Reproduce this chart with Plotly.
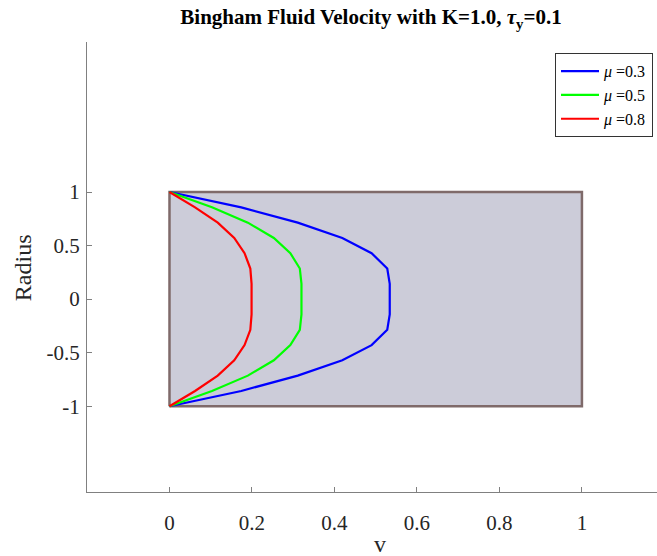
import plotly.graph_objects as go

# Radius sample points (top to bottom)
radius = [1.0, 0.857, 0.714, 0.571, 0.429, 0.286, 0.143, 0.0,
          -0.143, -0.286, -0.429, -0.571, -0.714, -0.857, -1.0]

# Velocity profiles
v_mu03 = [0.0, 0.174, 0.311, 0.419, 0.490, 0.528, 0.534, 0.534,
          0.534, 0.528, 0.490, 0.419, 0.311, 0.174, 0.0]
v_mu05 = [0.0, 0.103, 0.190, 0.253, 0.293, 0.316, 0.320, 0.320,
          0.320, 0.316, 0.293, 0.253, 0.190, 0.103, 0.0]
v_mu08 = [0.0, 0.062, 0.117, 0.157, 0.182, 0.196, 0.199, 0.199,
          0.199, 0.196, 0.182, 0.157, 0.117, 0.062, 0.0]

series_names = ["<i>μ</i> =0.3", "<i>μ</i> =0.5", "<i>μ</i> =0.8"]
series_values = [v_mu03, v_mu05, v_mu08]
series_colors = ["#0000FF", "#00FF00", "#FF0000"]

# Pipe rectangle
rect_x = [0, 1, 1, 0, 0]
rect_y = [-1, -1, 1, 1, -1]

x_ticks = [0, 0.2, 0.4, 0.6, 0.8, 1]
x_ticktext = ["0", "0.2", "0.4", "0.6", "0.8", "1"]
y_ticks = [-1, -0.5, 0, 0.5, 1]
y_ticktext = ["-1", "-0.5", "0", "0.5", "1"]

FONT = "Liberation Serif"

fig = go.Figure()
fig.add_trace(go.Scatter(
    x=rect_x, y=rect_y, mode="lines", fill="toself",
    fillcolor="#CCCCD9", line=dict(color="#7F6A6A", width=2.5),
    showlegend=False, hoverinfo="skip"))

for name, vals, col in zip(series_names, series_values, series_colors):
    fig.add_trace(go.Scatter(
        x=vals, y=radius, mode="lines", name=name,
        line=dict(color=col, width=2.2)))

fig.update_layout(
    width=657, height=556,
    margin=dict(l=87, r=0, t=42, b=64),
    paper_bgcolor="white", plot_bgcolor="white",
    font=dict(family=FONT, color="#262626"),
    title=dict(
        text="<b>Bingham Fluid Velocity with K=1.0, <i>τ</i><sub>y</sub>=0.1</b>",
        x=(371 - 87) / 570, xref="paper", y=1 - 17 / 556, yref="container",
        yanchor="middle", xanchor="center",
        font=dict(family=FONT, size=21, color="black")),
    legend=dict(
        x=0.993, y=0.975, xanchor="right", yanchor="top",
        bgcolor="white", bordercolor="#333333", borderwidth=1,
        font=dict(family=FONT, size=16, color="#000000"),
        itemwidth=38, tracegroupgap=0),
    showlegend=True,
    annotations=[
        dict(text="v", xref="paper", yref="paper",
             x=(380 - 87) / 570, y=(492 - 544) / 450.3,
             xanchor="center", yanchor="middle", showarrow=False,
             font=dict(family=FONT, size=24, color="#262626")),
        dict(text="Radius", xref="paper", yref="paper",
             x=(23 - 87) / 570, y=(492 - 268) / 450.3, textangle=-90,
             xanchor="center", yanchor="middle", showarrow=False,
             font=dict(family=FONT, size=24, color="#262626")),
    ],
)

fig.update_xaxes(
    range=[-0.2, 1.182], tickvals=x_ticks, ticktext=x_ticktext,
    showgrid=False, zeroline=False, showline=True, linecolor="#808080",
    linewidth=1, ticks="inside", ticklen=5, tickcolor="#808080",
    tickfont=dict(family=FONT, size=21, color="#262626"),
    ticklabelstandoff=12)
fig.update_yaxes(
    range=[-1.8, 2.4], tickvals=y_ticks, ticktext=y_ticktext,
    showgrid=False, zeroline=False, showline=True, linecolor="#808080",
    linewidth=1, ticks="inside", ticklen=5, tickcolor="#808080",
    tickfont=dict(family=FONT, size=21, color="#262626"),
    ticklabelstandoff=2)

fig.write_html(
    "out.html",
    config={"displayModeBar": False},
    post_script="document.body.style.margin='0';"
                "document.body.style.overflow='hidden';")
